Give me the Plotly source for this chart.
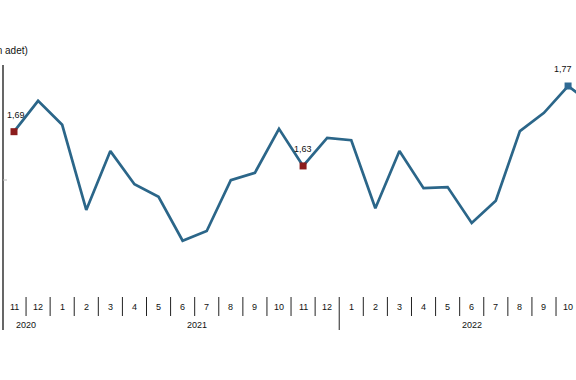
import plotly.graph_objects as go

months = ["11", "12", "1", "2", "3", "4", "5", "6", "7", "8", "9", "10",
          "11", "12", "1", "2", "3", "4", "5", "6", "7", "8", "9", "10", "11"]
values = [1.69, 1.744, 1.702, 1.553, 1.656, 1.598, 1.576, 1.499, 1.516, 1.605,
          1.618, 1.695, 1.63, 1.679, 1.675, 1.556, 1.656, 1.591, 1.593, 1.530,
          1.569, 1.691, 1.723, 1.77, 1.738]
years = ["2020", "2021", "2022"]
year_centers = [0.5, 7.6, 19.0]
labeled = {0: "1,69", 12: "1,63", 23: "1,77"}
marker_colors = {0: "#8b1c1c", 12: "#8b1c1c", 23: "#2f6a94"}

W, H = 576, 380
x_r0 = -14 / 24.09
x_r1 = x_r0 + W / 24.09
y_r1 = 1.77 + 86 / 571
y_r0 = y_r1 - H / 571

line_color = "#2b6689"
idx = list(range(len(values)))
FONT = "Liberation Sans, Arial"

fig = go.Figure()
fig.add_trace(go.Scatter(x=idx, y=values, mode="lines",
                         line=dict(color=line_color, width=2.7),
                         hoverinfo="skip", showlegend=False))
mi = list(marker_colors.keys())
fig.add_trace(go.Scatter(x=mi, y=[values[i] for i in mi], mode="markers",
                         marker=dict(symbol="square", size=7,
                                     color=[marker_colors[i] for i in mi],
                                     line=dict(width=0)),
                         showlegend=False, hoverinfo="skip", cliponaxis=False))

annotations = []
for i, t in labeled.items():
    annotations.append(dict(x=i, y=values[i], xref="x", yref="y", text=t,
                            showarrow=False, yshift=17,
                            xshift=(2 if i == 0 else (-5 if i == 23 else 0)),
                            font=dict(size=9, color="#111", family=FONT)))
for i, m in enumerate(months[:24]):
    annotations.append(dict(x=i, y=1 - 307 / H, xref="x", yref="paper", text=m,
                            showarrow=False, yanchor="middle",
                            font=dict(size=9, color="#111", family=FONT)))
for yc, yt in zip(year_centers, years):
    annotations.append(dict(x=yc, y=1 - 325 / H, xref="x", yref="paper", text=yt,
                            showarrow=False, yanchor="middle",
                            font=dict(size=9, color="#111", family=FONT)))
annotations.append(dict(x=30 / W, y=1 - 51 / H, xref="paper", yref="paper",
                        text="(milyon adet)", xanchor="right", yanchor="middle",
                        showarrow=False,
                        font=dict(size=10, color="#111", family=FONT)))

shapes = []
shapes.append(dict(type="line", xref="paper", yref="paper", x0=3 / W, x1=3 / W,
                   y0=1 - 65 / H, y1=1 - 330 / H, line=dict(color="#000", width=1.2)))
shapes.append(dict(type="line", xref="paper", yref="paper", x0=3 / W, x1=7 / W,
                   y0=1 - 180 / H, y1=1 - 180 / H, line=dict(color="#bbb", width=1)))
for i in range(24):
    xb = i + 0.5
    long = (i == 13)
    shapes.append(dict(type="line", xref="x", yref="paper", x0=xb, x1=xb,
                       y0=1 - 297 / H, y1=1 - (330 if long else 316) / H,
                       line=dict(color="#222", width=1)))

fig.update_layout(
    width=W, height=H,
    margin=dict(l=0, r=0, t=0, b=0),
    paper_bgcolor="white", plot_bgcolor="white",
    xaxis=dict(range=[x_r0, x_r1], visible=False, fixedrange=True),
    yaxis=dict(range=[y_r0, y_r1], visible=False, fixedrange=True),
    annotations=annotations, shapes=shapes,
)
fig.write_html("out.html", config={"displayModeBar": False})
